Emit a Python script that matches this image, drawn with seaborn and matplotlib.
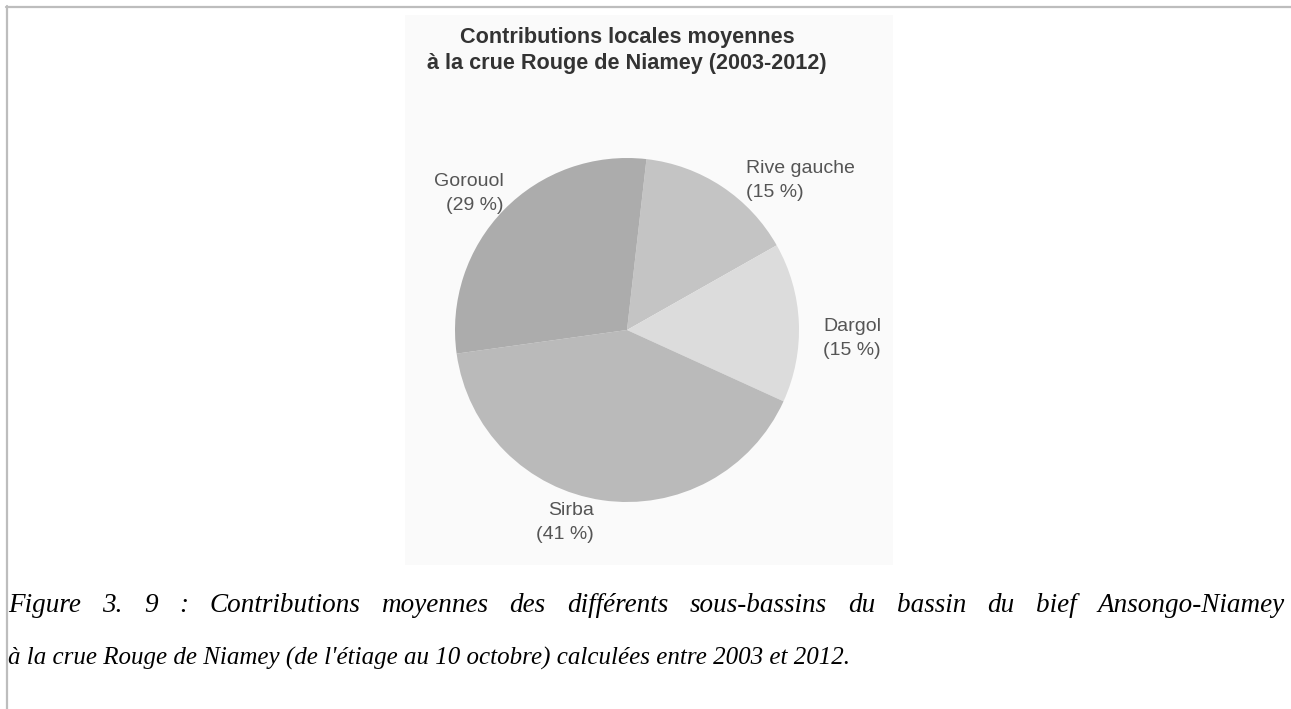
import matplotlib
matplotlib.use('Agg')
import matplotlib.pyplot as plt
from matplotlib.lines import Line2D
from matplotlib.patches import Rectangle
import numpy as np
import seaborn as sns

# Data (clockwise from the top)
basins = ['Rive gauche', 'Dargol', 'Sirba', 'Gorouol']
shares = [15, 15, 41, 29]
slice_colors = ['#c4c4c4', '#dcdcdc', '#bababa', '#acacac']

title_lines = ['Contributions locales moyennes',
               'à la crue Rouge de Niamey (2003-2012)']
caption_lines = [
    "Figure 3. 9 : Contributions moyennes des différents sous-bassins "
    "du bassin du bief Ansongo-Niamey",
    "à la crue Rouge de Niamey (de l'étiage au 10 octobre) calculées "
    "entre 2003 et 2012.",
]


def justified_line(fig, text, x0, x1, y, W, **kw):
    """Draw a line of words spread evenly between x0 and x1 (pixels)."""
    words = text.split(' ')
    renderer = fig.canvas.get_renderer()
    objs = [fig.text(0, y, w, ha='left', va='center', **kw) for w in words]
    widths = [o.get_window_extent(renderer).width for o in objs]
    gap = (x1 - x0 - sum(widths)) / (len(words) - 1)
    x = x0
    for o, wd in zip(objs, widths):
        o.set_x(x / W)
        x += wd + gap


def main():
    sns.set_theme(style='white')
    plt.rcParams['font.family'] = ['Liberation Sans', 'DejaVu Sans']

    W, H = 1291, 709
    fig = plt.figure(figsize=(W / 100, H / 100), dpi=100)
    fig.patch.set_facecolor('white')

    # faint background of the scanned picture
    fig.add_artist(Rectangle((405 / W, 1 - 565 / H), 488 / W, 550 / H,
                             transform=fig.transFigure, facecolor='#fafafa',
                             edgecolor='none', zorder=0))

    # page border lines
    fig.add_artist(Line2D([6 / W, 1], [1 - 7 / H, 1 - 7 / H],
                          transform=fig.transFigure, color='#bdbdbd', lw=1.6))
    fig.add_artist(Line2D([7 / W, 7 / W], [0, 1 - 6 / H],
                          transform=fig.transFigure, color='#bdbdbd', lw=1.6))

    # pie axes: centre (627, 330) px, radius 172 px
    cx, cy, r = 627, 330, 172
    ax = fig.add_axes([(cx - r) / W, 1 - (cy + r) / H, 2 * r / W, 2 * r / H])
    labels = [f'{b}\n({s} %)' for b, s in zip(basins, shares)]
    wedges, texts = ax.pie(shares, colors=slice_colors, startangle=83.5,
                           counterclock=False, labels=labels,
                           labeldistance=1.12,
                           wedgeprops=dict(linewidth=0),
                           textprops=dict(fontsize=14, color='#555555',
                                          linespacing=1.5))
    label_dist = [1.11, 1.14, 1.135, 1.07]
    label_shift = [-5, -5, -1.5, -3.5]
    for w, t, d, sh in zip(wedges, texts, label_dist, label_shift):
        ang = np.deg2rad((w.theta1 + w.theta2) / 2 + sh)
        t.set_position((d * np.cos(ang), d * np.sin(ang)))
    ax.set_xlim(-1, 1)
    ax.set_ylim(-1, 1)
    ax.axis('off')

    for i, line in enumerate(title_lines):
        fig.text(cx / W, 1 - (37 + 26 * i) / H, line, ha='center', va='center',
                 fontsize=15.6, fontweight='bold', color='#333333')

    cap_kw = dict(style='italic', family='Liberation Serif', color='#000000')
    justified_line(fig, caption_lines[0], 8, 1285, 1 - 606 / H, W,
                   fontsize=19.5, **cap_kw)
    fig.text(8 / W, 1 - 658 / H, caption_lines[1], ha='left', va='center',
             fontsize=18, **cap_kw)

    fig.savefig('out.png', dpi=100)


if __name__ == '__main__':
    main()
